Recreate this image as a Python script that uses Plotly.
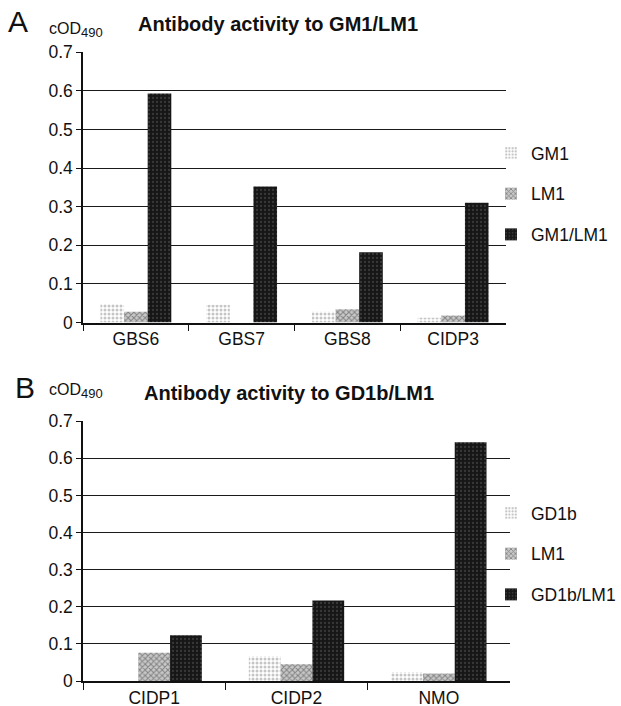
import plotly.graph_objects as go

# Panel A data
cats_a = ["GBS6", "GBS7", "GBS8", "CIDP3"]
gm1 = [0.048, 0.046, 0.028, 0.012]
lm1_a = [0.028, 0.0, 0.034, 0.018]
gm1_lm1 = [0.593, 0.352, 0.182, 0.310]

# Panel B data
cats_b = ["CIDP1", "CIDP2", "NMO"]
gd1b = [0.0, 0.067, 0.024]
lm1_b = [0.076, 0.045, 0.020]
gd1b_lm1 = [0.123, 0.217, 0.643]

yticks = [0, 0.1, 0.2, 0.3, 0.4, 0.5, 0.6, 0.7]
ytick_text = ["0", "0.1", "0.2", "0.3", "0.4", "0.5", "0.6", "0.7"]

W, H = 621, 706
FONT = "Liberation Sans, Arial, sans-serif"

light = dict(color="#e6e6e6", pattern=dict(shape=".", bgcolor="#ffffff", fgcolor="#8c8c8c", size=4, solidity=0.45))
mid = dict(color="#8a8a8a", pattern=dict(shape="x", bgcolor="#c8c8c8", fgcolor="#3c3c3c", size=4, solidity=0.45))
dark = dict(color="#1c1c1c", pattern=dict(shape=".", bgcolor="#161616", fgcolor="#5a5a5a", size=4, solidity=0.25))

fig = go.Figure()

def add(name, x, y, style, xa, ya, legend, grp):
    fig.add_trace(go.Bar(name=name, x=x, y=y, marker=dict(line=dict(width=0), **style),
                         xaxis=xa, yaxis=ya, legend=legend, legendgroup=grp))

add("GM1", cats_a, gm1, light, "x", "y", "legend", "a1")
add("LM1", cats_a, lm1_a, mid, "x", "y", "legend", "a2")
add("GM1/LM1", cats_a, gm1_lm1, dark, "x", "y", "legend", "a3")
add("GD1b", cats_b, gd1b, light, "x2", "y2", "legend2", "b1")
add("LM1", cats_b, lm1_b, mid, "x2", "y2", "legend2", "b2")
add("GD1b/LM1", cats_b, gd1b_lm1, dark, "x2", "y2", "legend2", "b3")

def px(v):
    return v / W

def py(v):
    return 1 - v / H

TS = 17.5
xcommon = dict(type="category", showline=True, linecolor="#111", linewidth=1.5,
               ticks="outside", tickson="boundaries", ticklen=7, tickcolor="#111", tickwidth=1.2,
               showgrid=False, tickfont=dict(size=TS, color="#111", family=FONT), fixedrange=True)
ycommon = dict(range=[0, 0.7005], tickvals=yticks, ticktext=ytick_text, showline=True, linecolor="#111",
               linewidth=1.5, ticks="outside", ticklen=5, tickcolor="#111", showgrid=True,
               gridcolor="#1a1a1a", gridwidth=1.4, zeroline=False,
               tickfont=dict(size=TS, color="#111", family=FONT), fixedrange=True)

fig.update_layout(
    width=W, height=H, margin=dict(l=0, r=0, t=0, b=0, autoexpand=False),
    paper_bgcolor="white", plot_bgcolor="white",
    barmode="group", bargap=0.33, bargroupgap=0,
    font=dict(family=FONT, color="#111"),
    xaxis=dict(domain=[px(83), px(506)], anchor="y", **xcommon),
    yaxis=dict(domain=[py(322.5), py(52)], anchor="x", **ycommon),
    xaxis2=dict(domain=[px(83), px(510)], anchor="y2", **xcommon),
    yaxis2=dict(domain=[py(681), py(421)], anchor="x2", **ycommon),
    legend=dict(x=px(491), y=py(135), xanchor="left", yanchor="top", tracegroupgap=15,
                font=dict(size=TS, family=FONT, color="#111"), bgcolor="rgba(0,0,0,0)"),
    legend2=dict(x=px(491), y=py(495), xanchor="left", yanchor="top", tracegroupgap=15,
                 font=dict(size=TS, family=FONT, color="#111"), bgcolor="rgba(0,0,0,0)"),
    showlegend=True,
)

def ann(text, x, y, size, bold=False):
    fig.add_annotation(text=f"<b>{text}</b>" if bold else text, x=px(x), y=py(y), xref="paper", yref="paper",
                       xanchor="left", yanchor="middle", showarrow=False,
                       font=dict(size=size, family=FONT, color="#111"))

sub = 'cOD<sub><span style="font-size:13px">490</span></sub>'
ann("A", 6, 21, 30)
ann(sub, 47, 30, 16)
ann("Antibody activity to GM1/LM1", 136, 23.5, 20, bold=True)
ann("B", 13, 387, 30)
ann(sub, 47, 391, 16)
ann("Antibody activity to GD1b/LM1", 142, 392.5, 20, bold=True)

fig.write_html("out.html", config={"displayModeBar": False},
               post_script="document.body.style.margin='0';document.body.style.overflow='hidden';")
